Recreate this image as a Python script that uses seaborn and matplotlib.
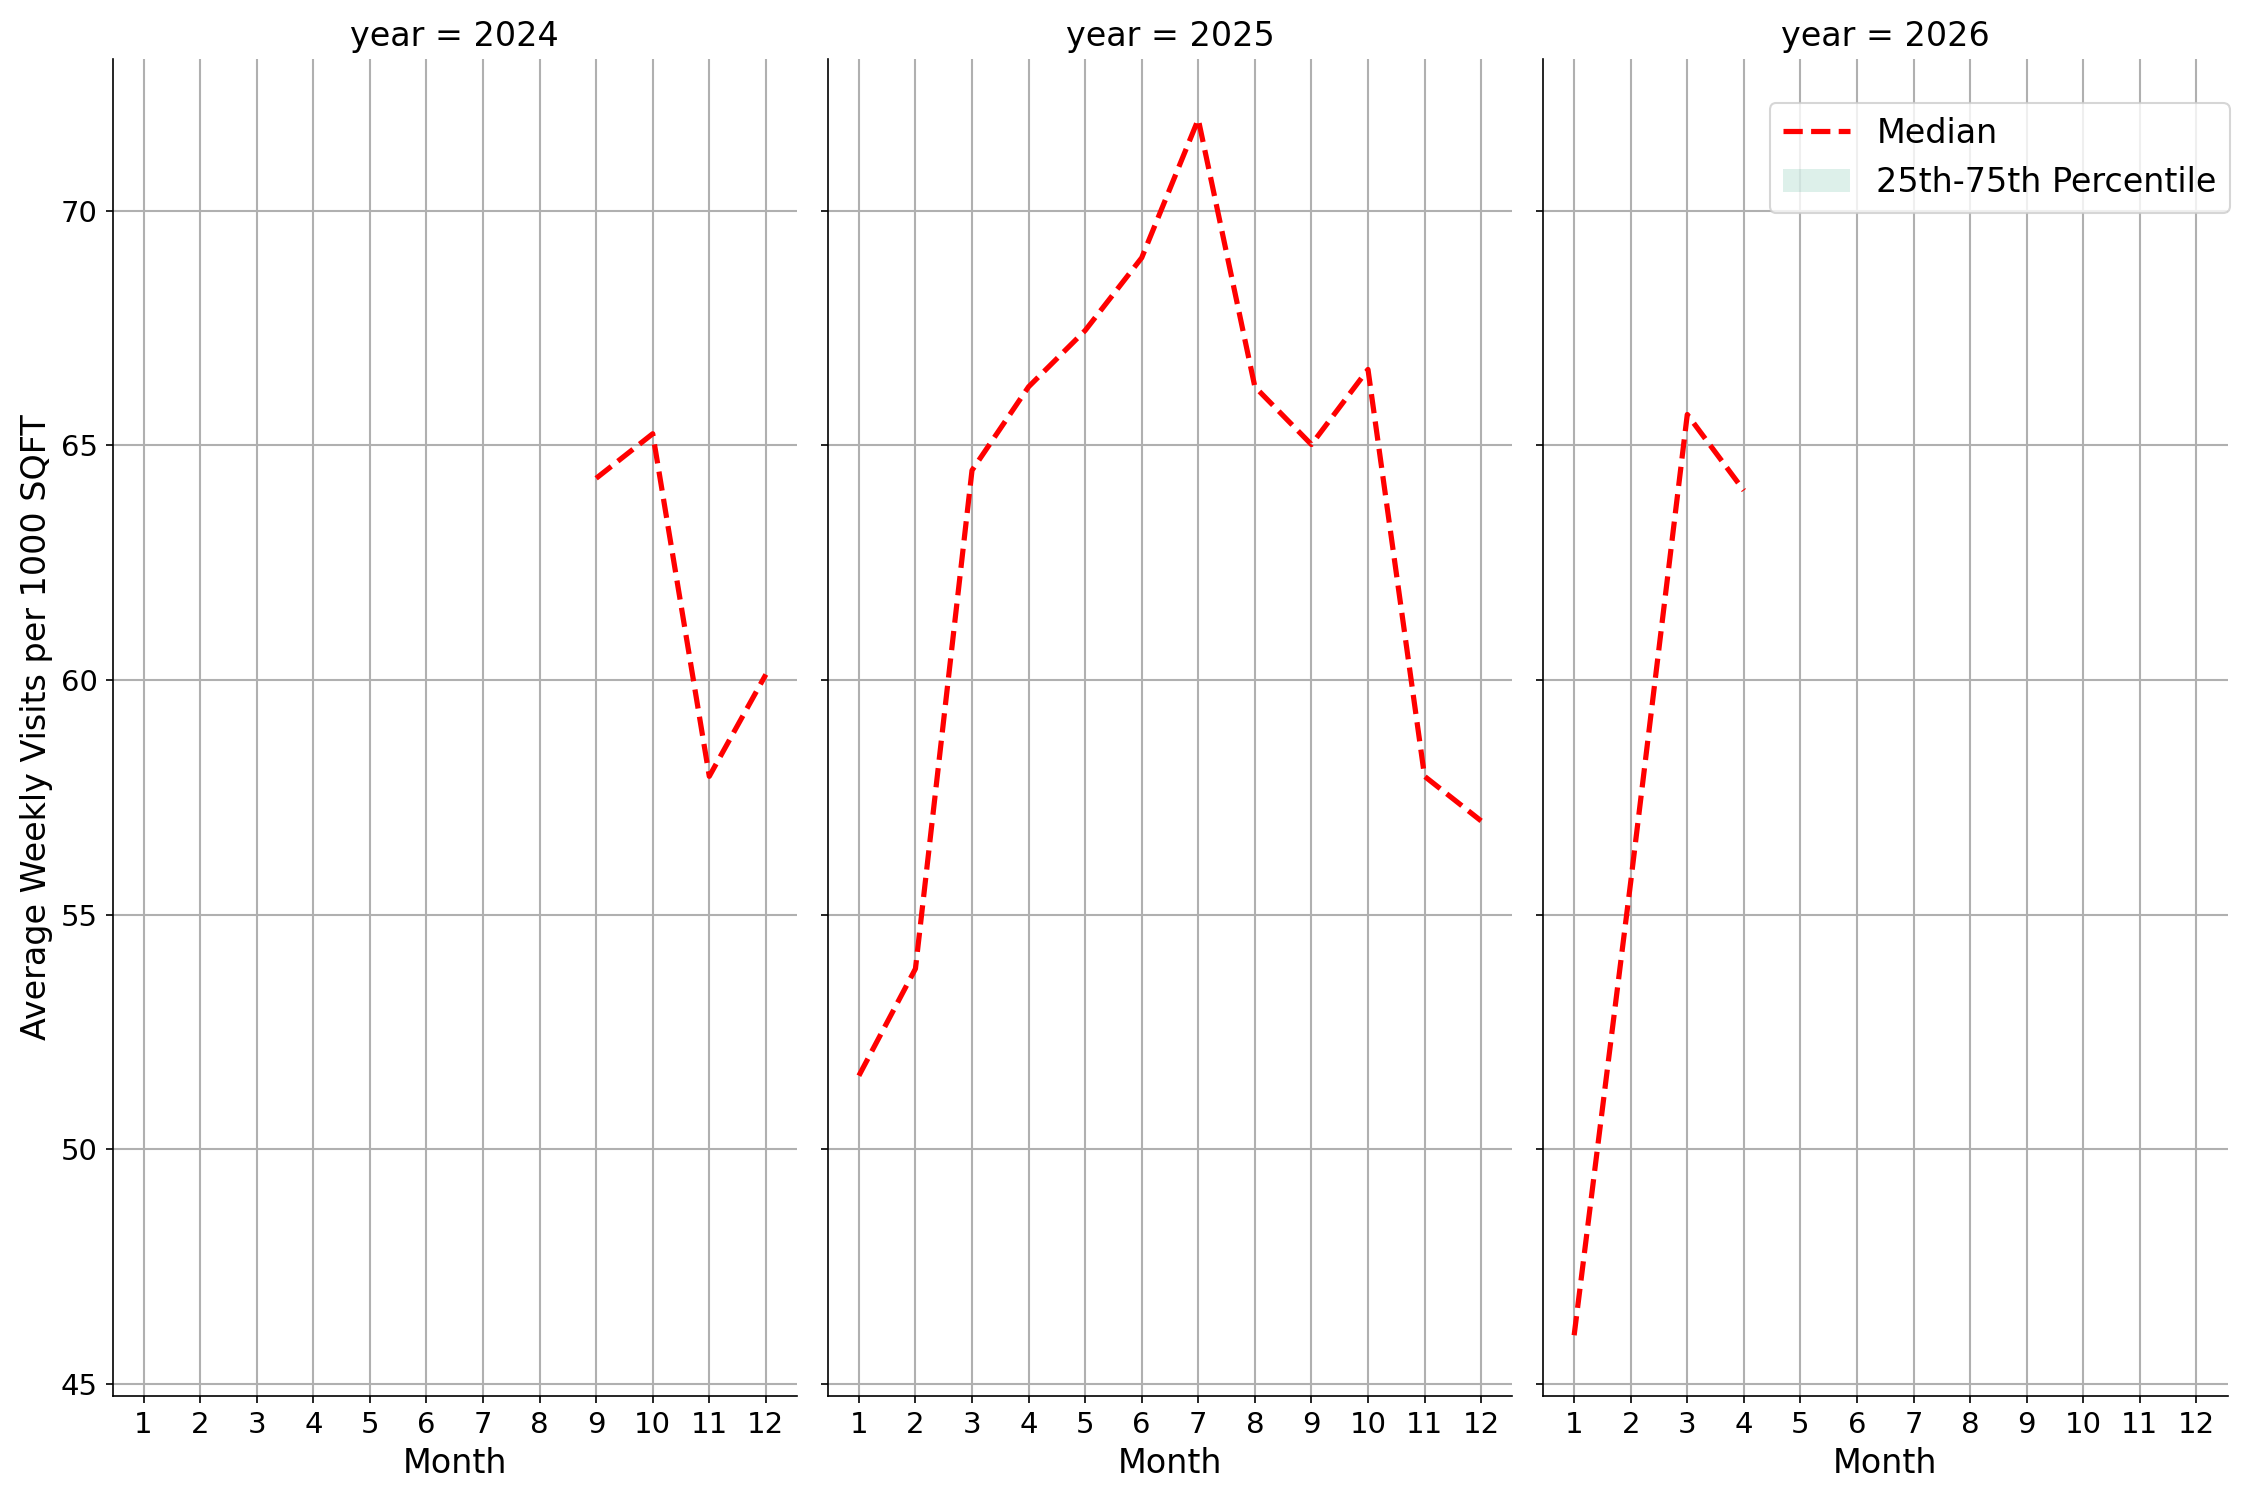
import pandas as pd
import numpy as np
import matplotlib
matplotlib.use("Agg")
import matplotlib.pyplot as plt
import seaborn as sns
from matplotlib.patches import Patch
from matplotlib.lines import Line2D

# monthly median visits per 1000 sqft
months_2024 = [9, 10, 11, 12]
median_2024 = [64.3, 65.25, 57.95, 60.12]

months_2025 = [1, 2, 3, 4, 5, 6, 7, 8, 9, 10, 11, 12]
median_2025 = [51.57, 53.85, 64.47, 66.25, 67.45, 69.0, 71.95, 66.25, 65.02, 66.62, 57.95, 57.0]

months_2026 = [1, 2, 3, 4]
median_2026 = [46.04, 55.7, 65.66, 64.04]

years = [2024, 2025, 2026]
month_ticks = list(range(1, 13))

df = pd.concat([
    pd.DataFrame({"year": 2024, "month": months_2024, "median": median_2024}),
    pd.DataFrame({"year": 2025, "month": months_2025, "median": median_2025}),
    pd.DataFrame({"year": 2026, "month": months_2026, "median": median_2026}),
], ignore_index=True)

plt.rcParams["font.family"] = ["DejaVu Sans"]

g = sns.FacetGrid(df, col="year", col_order=years, height=10, aspect=0.5,
                  sharex=True, sharey=True)
g.map_dataframe(sns.lineplot, x="month", y="median", color="red",
                linestyle="--", linewidth=2.5)

for ax in g.axes.flat:
    ax.grid(True, color="#b0b0b0", linewidth=1.0)
    ax.set_axisbelow(True)
    ax.set_xticks(month_ticks)
    ax.set_xlim(0.45, 12.55)
    ax.tick_params(labelsize=14)
    ax.set_xlabel("Month", fontsize=16)

g.set_titles("year = {col_name}", size=16)
g.axes.flat[0].set_ylabel("Average Weekly Visits per 1000 SQFT", fontsize=16)

handles = [
    Line2D([0], [0], color="red", linestyle="--", linewidth=2.5),
    Patch(facecolor="#1b9e77", alpha=0.15),
]
g.axes.flat[-1].legend(handles, ["Median", "25th-75th Percentile"],
                       loc="upper right", bbox_to_anchor=(1.028, 0.979),
                       fontsize=16)

g.figure.subplots_adjust(left=0.05, right=0.99, top=0.961, bottom=0.0693, wspace=0.045)
g.figure.savefig("out.png", dpi=150)
